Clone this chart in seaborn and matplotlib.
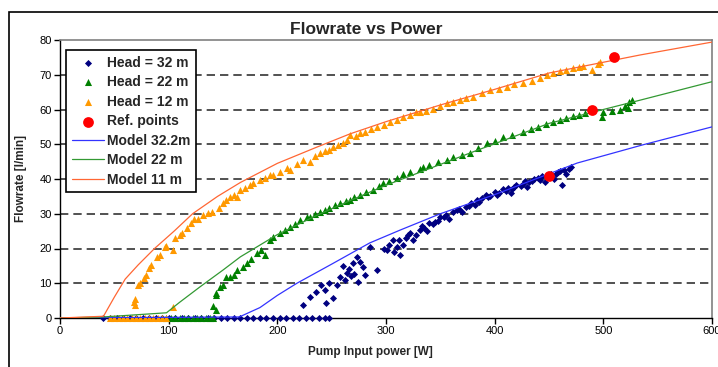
import numpy as np
import pandas as pd
import matplotlib
matplotlib.use("Agg")
import matplotlib.pyplot as plt
import seaborn as sns
from matplotlib.patches import Rectangle

head32_x = [40, 46, 52, 58, 64, 70, 76, 82, 88, 94, 100, 106, 112, 118, 124, 130, 136, 142,
            148, 154, 160, 166, 172, 178, 184, 190, 196, 202, 208, 214, 220, 226, 232, 238, 244, 248,
            224, 230, 236, 245, 251, 244, 255, 258, 264, 270, 273, 274, 281, 279, 285, 292,
            301, 306, 313, 316, 322, 331, 340, 350, 362, 374, 384,
            262, 266, 268, 271, 276, 260, 248, 240,
            303, 307, 310, 318, 325, 328, 335, 338, 345, 348, 355, 358, 365, 370, 378, 382,
            388, 392, 396, 400, 404, 408, 412, 416, 420, 424, 428, 432, 436, 440, 444, 448,
            452, 456, 460, 464, 468, 470, 462, 446, 430, 415, 455, 466,
            298, 312, 320, 333, 343, 353, 367, 376, 386, 394, 402, 410, 418, 426, 434, 442,
            450, 458]
head32_y = [0] * 36 + [
            3.7, 6, 7.5, 4.3, 5.8, 8, 9.5, 11.8, 13, 15.8, 17.6, 10.4, 12.4, 14.7, 20.4, 13.8,
            19.6, 22.4, 18.1, 21, 24.5, 25.3, 27.3, 29, 30.5, 32, 34,
            11, 14, 12, 12.8, 16, 15, 10, 9.5,
            21, 19, 20.5, 23, 22.5, 24, 26, 25, 27.5, 28, 29.5, 28.5, 31, 30.5, 33, 32.5,
            34.5, 35.5, 35, 36.3, 36, 37, 37.5, 37.2, 38.4, 38, 39.3, 39, 40, 40.2, 40.8, 41,
            41.5, 41.4, 42.2, 42.6, 43, 43.4, 38.2, 39.2, 37.8, 36, 40, 41.5,
            20, 22.5, 23.8, 26.5, 27, 29, 31.5, 32.2, 33.5, 34.8, 35.3, 36.5, 37.8, 38.6, 39.5, 39.8,
            40.5, 42]

head22_x = [98, 102, 106, 110, 114, 118, 122, 126, 130, 134, 138, 141,
            141, 144, 144, 144, 147, 150, 153, 156, 160, 163, 168, 172, 176, 181, 185, 189,
            193, 196, 202, 207, 212, 216, 221, 227, 230, 235, 239, 244, 248, 253, 258, 263,
            267, 271, 276, 282, 288, 294, 297, 303, 310, 316, 322, 331, 334, 340, 348, 356,
            362, 370, 377, 385, 393, 400, 408, 416, 426, 433, 440, 447, 454, 460, 466, 472,
            478, 483, 500, 499, 508, 515, 520, 524, 523, 526]
head22_y = [0] * 12 + [
            3.5, 2.3, 6.6, 7.2, 9, 9.5, 11.8, 11.8, 12.5, 13.8, 14.7, 15.8, 17, 18.7, 19.5, 18.1,
            22.4, 23.3, 24.5, 25.3, 26.2, 27, 28.2, 29, 29, 29.8, 30.5, 31, 31.7, 32.5, 33, 33.8,
            34, 34.8, 35.5, 36.2, 36.8, 38, 38.8, 39.5, 40.3, 41.3, 42, 43, 43.5, 44, 45, 45.5,
            46.3, 47, 47.5, 49, 50.3, 51, 52, 52.6, 53.5, 54.5, 55, 55.8, 56.4, 57, 57.5, 58,
            58.4, 59, 59.3, 57.8, 59.5, 60, 61, 62.2, 60.5, 62.8]

head12_x = [46, 50, 54, 58, 62, 66, 70, 74, 78, 82, 86, 90, 94, 98,
            68, 69, 69, 72, 74, 77, 79, 81.5, 84, 89, 92, 97, 98, 104, 104, 106, 110, 112,
            117, 121, 123, 127, 132, 136, 140, 146, 150, 153, 156, 160, 163, 166, 170, 175,
            178, 184, 189, 193, 196, 202, 209, 212, 218, 224, 230, 235, 239, 244, 248, 251,
            256, 260, 264, 267, 272, 276, 281, 286, 292, 298, 304, 310, 316, 322, 328, 331,
            337, 343, 350, 356, 362, 368, 374, 380, 388, 396, 404, 411, 418, 426, 434, 442,
            448, 454, 460, 466, 472, 478, 481, 490, 497, 495]
head12_y = [0] * 14 + [
            4.7, 3.7, 5.5, 9.5, 10, 11.5, 12.3, 14.4, 15.2, 17.6, 18, 20.4, 20.7, 19.6, 3.2, 23,
            24, 24.5, 26, 27.3, 28.5, 28.5, 29.6, 30.2, 30.5, 31.7, 33, 34, 34.8, 35.5, 34.8,
            36.8, 37.5, 38.3, 38.8, 39.7, 40.3, 41.2, 41.2, 42, 43.2, 42.6, 44.3, 45.5, 45,
            46.5, 47.5, 48, 48.3, 49.2, 49.8, 50.5, 51.2, 52.7, 52.5, 53.3, 53.5, 54.3, 55,
            55.6, 56.4, 57, 57.8, 58.5, 59.3, 59.3, 59.7, 60.1, 61, 61.9, 62.3, 62.7, 63.3,
            63.6, 64.8, 65.6, 66, 66.5, 67.2, 67.6, 68.3, 69, 69.8, 70.5, 71, 71.4, 71.9,
            72.2, 72.6, 71.4, 73.7, 73]

ref_x = [450, 490, 510]
ref_y = [41, 60, 75]

# Model curves
model32_x = [0, 165, 184, 200, 218, 250, 285, 313, 350, 400, 440, 476, 536, 600]
model32_y = [0, 0.3, 3, 6.5, 10, 15.5, 21.6, 25.3, 30, 35.5, 40.3, 44.6, 49.8, 55]
model22_x = [0, 40, 98, 110, 129, 150, 166, 200, 236, 267, 300, 340, 380, 450, 500, 534, 600]
model22_y = [0, 0.3, 1.5, 4.5, 9, 13.8, 17.6, 24, 29.5, 33.8, 38.2, 43, 47.8, 56, 60, 62.7, 68]
model11_x = [0, 40, 50, 60, 72, 87, 105, 122, 145, 166, 200, 235, 267, 300, 350, 400, 450, 534, 600]
model11_y = [0, 0.5, 6, 11.2, 15.3, 20, 25, 30, 35, 39, 44.5, 49, 53, 56.5, 61.3, 65.8, 70.5, 75.7, 79.4]

x_ticks = [0, 100, 200, 300, 400, 500, 600]
y_ticks = [0, 10, 20, 30, 40, 50, 60, 70, 80]

sns.set_style("white")
plt.rcParams["font.family"] = ["Liberation Sans", "DejaVu Sans"]

fig = plt.figure(figsize=(7.18, 3.67), dpi=100)
ax = fig.add_axes([60 / 718, 1 - 318 / 367, 652 / 718, 278 / 367])

# chart area border (cut off at right and bottom like the screenshot)
fig.patches.append(Rectangle((9 / 718, -0.2), 1.2, 1.2 - 12 / 367,
                             transform=fig.transFigure, fill=False,
                             edgecolor="black", linewidth=1.2, zorder=0))

for yv in y_ticks[1:-1]:
    ax.axhline(yv, color="#333333", linewidth=1.2, linestyle=(0, (5, 3)), zorder=1)

sns.scatterplot(x=head32_x, y=head32_y, ax=ax, marker="D", s=13, color="#000080",
                linewidth=0, label="Head = 32 m", zorder=3, clip_on=False)
sns.scatterplot(x=head22_x, y=head22_y, ax=ax, marker="^", s=26, color="#008000",
                linewidth=0, label="Head = 22 m", zorder=3, clip_on=False)
sns.scatterplot(x=head12_x, y=head12_y, ax=ax, marker="^", s=26, color="#FF9900",
                linewidth=0, label="Head = 12 m", zorder=3, clip_on=False)
sns.scatterplot(x=ref_x, y=ref_y, ax=ax, marker="o", s=60, color="#FF0000",
                linewidth=0, label="Ref. points", zorder=5)

models = pd.concat([
    pd.DataFrame({"x": model32_x, "y": model32_y, "m": "Model 32.2m"}),
    pd.DataFrame({"x": model22_x, "y": model22_y, "m": "Model 22 m"}),
    pd.DataFrame({"x": model11_x, "y": model11_y, "m": "Model 11 m"}),
])
sns.lineplot(data=models, x="x", y="y", hue="m", ax=ax, sort=False, estimator=None,
             palette=["#3333FF", "#339933", "#FF6633"], linewidth=0.9, zorder=4)

ax.set_xlim(0, 600)
ax.set_ylim(0, 80)
ax.set_xticks(x_ticks)
ax.set_yticks(y_ticks)
ax.set_xlabel("")
ax.set_ylabel("")
ax.tick_params(axis="both", direction="out", length=4, width=1, labelsize=8,
               colors="black", pad=2, bottom=True, left=True)
for side in ["left", "bottom"]:
    ax.spines[side].set_color("black")
    ax.spines[side].set_linewidth(1)
for side in ["top", "right"]:
    ax.spines[side].set_visible(True)
    ax.spines[side].set_color("#808080")
    ax.spines[side].set_linewidth(1.2)

leg = ax.legend(loc="upper left", bbox_to_anchor=(6 / 652, 1 - 10 / 278), borderaxespad=0,
                frameon=True, fancybox=False, edgecolor="black", framealpha=1,
                prop={"weight": "bold", "size": 10}, handlelength=2.3, handletextpad=0.25,
                labelspacing=0.4, borderpad=0.4)
leg.get_frame().set_linewidth(1.2)
leg.set_zorder(10)

fig.text(366 / 718, 1 - 34 / 367, "Flowrate vs Power", ha="center", va="baseline",
         fontsize=12.5, fontweight="bold")
fig.text(370 / 718, 1 - 355 / 367, "Pump Input power [W]", ha="center", va="baseline",
         fontsize=8.5, fontweight="bold")
fig.text(21 / 718, 1 - 178 / 367, "Flowrate [l/min]", ha="center", va="center",
         rotation=90, fontsize=8.5, fontweight="bold")

fig.savefig("out.png", dpi=100)
